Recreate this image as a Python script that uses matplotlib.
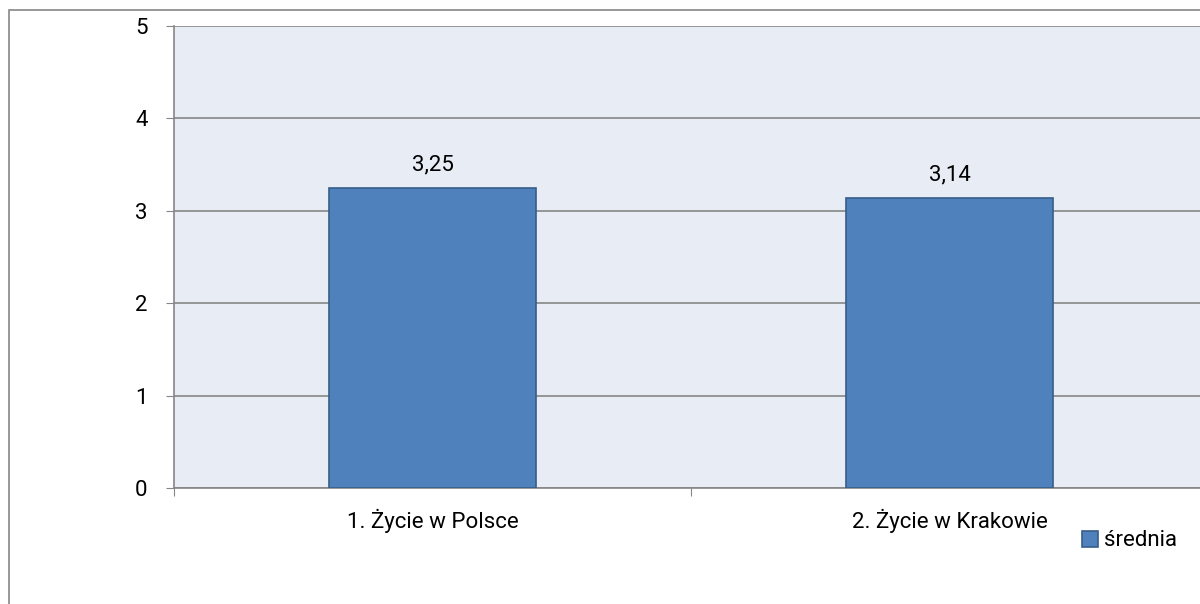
import matplotlib.pyplot as plt
from matplotlib.patches import Rectangle

categories = ["1. Życie w Polsce", "2. Życie w Krakowie"]
values = [3.25, 3.14]
value_labels = ["3,25", "3,14"]
series_name = "średnia"

plt.rcParams["font.family"] = ["Roboto", "DejaVu Sans"]
FS = 16

W, H = 1200, 604
fig = plt.figure(figsize=(W / 100, H / 100), dpi=100)

# outer chart border (only left/top visible, rest falls outside the image)
fig.patches.append(Rectangle((9 / W, -0.1), 1.2, 1 - 10 / H + 0.1, transform=fig.transFigure,
                             fill=False, edgecolor="#868686", linewidth=1.2))

ax = fig.add_axes([174 / W, 1 - 488 / H, 1034 / W, 462 / H])
ax.set_facecolor("#E8ECF4")

x = list(range(len(categories)))
bars = ax.bar(x, values, width=0.4, color="#4F81BD", edgecolor="#385D8A", linewidth=1.2,
              zorder=3, label=series_name)
for xi, v, lab in zip(x, values, value_labels):
    ax.annotate(lab, (xi, v), textcoords="offset points", xytext=(0, 9),
                ha="center", va="bottom", fontsize=FS)

ax.set_xlim(-0.5, 1.5)
ax.set_ylim(0, 5)
ax.set_yticks([0, 1, 2, 3, 4, 5])
ax.set_xticks([-0.5, 0.5, 1.5], minor=False)
ax.set_xticklabels(["", "", ""])
ax.set_xticks(x, minor=True)
ax.set_xticklabels(categories, minor=True)
ax.tick_params(axis="x", which="minor", length=0, pad=15, labelsize=FS)
ax.tick_params(axis="x", which="major", length=6, color="#868686", direction="out")
ax.tick_params(axis="y", length=6, color="#868686", pad=13, labelsize=FS)

ax.grid(axis="y", color="#868686", linewidth=1.2, zorder=1)
ax.set_axisbelow(True)
for side in ["left", "bottom"]:
    ax.spines[side].set_color("#868686")
    ax.spines[side].set_linewidth(1.2)
ax.spines["top"].set_visible(False)
ax.spines["right"].set_visible(False)

fig.legend(loc="center left", bbox_to_anchor=(1062 / W, 1 - 541 / H), frameon=False,
           handlelength=0.7, handleheight=0.7, handletextpad=0.3, fontsize=FS)

plt.savefig("out.png", dpi=100)
plt.close()
